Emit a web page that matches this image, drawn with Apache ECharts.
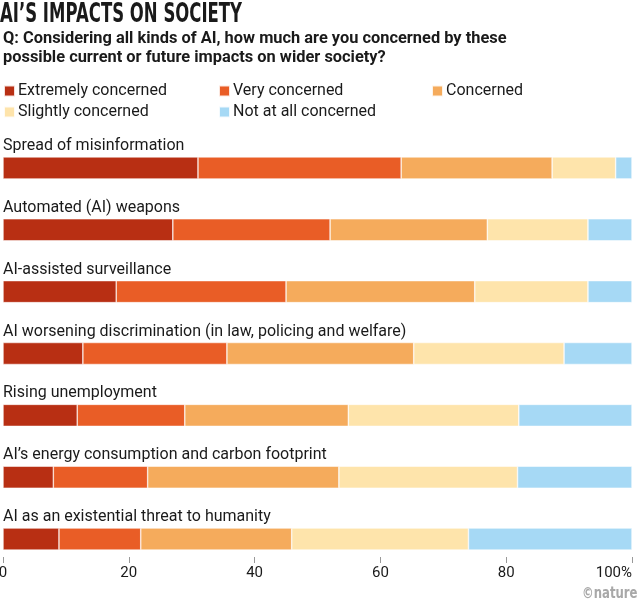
<!DOCTYPE html>
<html>
<head>
<meta charset="utf-8">
<script src="https://cdn.jsdelivr.net/npm/echarts@6/dist/echarts.min.js"></script>
<style>
html,body{margin:0;padding:0;background:#fff;}
#chart{width:640px;height:606px;}
</style>
</head>
<body>
<div id="chart"></div>
<script>
const categories = [
  "Spread of misinformation",
  "Automated (AI) weapons",
  "AI-assisted surveillance",
  "AI worsening discrimination (in law, policing and welfare)",
  "Rising unemployment",
  "AI\u2019s energy consumption and carbon footprint",
  "AI as an existential threat to humanity"
];
const seriesNames = ["Extremely concerned", "Very concerned", "Concerned", "Slightly concerned", "Not at all concerned"];
const extremely = [31, 27, 18, 12.7, 11.8, 8, 8.9];
const very = [32.3, 25, 27, 22.9, 17.1, 15, 13];
const concerned = [24, 25, 30, 29.7, 26, 30.4, 24];
const slightly = [10.1, 16, 18, 23.9, 27.1, 28.4, 28.1];
const notAtAll = [2.6, 7, 7, 10.8, 18, 18.2, 26];
const xTicks = [0, 20, 40, 60, 80, 100];

const colors = ["#b82f13", "#e95d26", "#f5ab5c", "#fee4ab", "#a6d9f5"];
const values = [extremely, very, concerned, slightly, notAtAll];
const FONT = "Roboto";

const chart = echarts.init(document.getElementById('chart'));

const legendPos = [
  {left: 3, top: 83}, {left: 218, top: 83}, {left: 431, top: 83},
  {left: 3, top: 104}, {left: 218, top: 104}
];

const series = seriesNames.map((name, i) => {
  const s = {
    name: name,
    type: 'bar',
    stack: 'total',
    barWidth: 22,
    data: values[i],
    itemStyle: {color: colors[i], borderColor: 'rgba(255,255,255,0.85)', borderWidth: 0.6},
    emphasis: {disabled: true},
    animation: false
  };
  if (i === 0) {
    s.label = {
      show: true,
      position: [0, -11],
      verticalAlign: 'middle',
      align: 'left',
      formatter: p => categories[p.dataIndex],
      color: '#1a1a1a',
      fontSize: 16,
      fontFamily: FONT
    };
  }
  return s;
});

const option = {
  backgroundColor: '#fff',
  animation: false,
  legend: seriesNames.map((name, i) => ({
    data: [name],
    left: legendPos[i].left,
    top: legendPos[i].top,
    icon: 'rect',
    itemWidth: 11,
    itemHeight: 11,
    itemGap: 0,
    padding: 0,
    selectedMode: false,
    textStyle: {fontSize: 16, color: '#1a1a1a', fontFamily: FONT, padding: [0, 0, 0, -2]}
  })),
  grid: {left: 3, right: 8, top: 137, bottom: 36, containLabel: false, outerBoundsMode: 'none'},
  xAxis: {
    type: 'value',
    min: 0,
    max: 100,
    interval: 20,
    offset: -13,
    axisLine: {show: false},
    splitLine: {show: false},
    axisTick: {show: true, length: 6, lineStyle: {color: '#999', width: 1}},
    axisLabel: {
      margin: 9,
      fontSize: 15,
      color: '#1a1a1a',
      fontFamily: FONT,
      alignMaxLabel: 'right',
      formatter: v => (xTicks.indexOf(v) >= 0 ? (v === 100 ? v + '%' : String(v)) : '')
    }
  },
  yAxis: {
    type: 'category',
    data: categories,
    inverse: true,
    axisLine: {show: false},
    axisTick: {show: false},
    axisLabel: {show: false},
    splitLine: {show: false}
  },
  graphic: [
    {
      type: 'text', x: 0, y: 2,
      scaleX: 0.635,
      style: {text: "AI\u2019S IMPACTS ON SOCIETY", fontSize: 26, fontWeight: 'bold', fontFamily: 'DejaVu Sans', fill: '#1a1a1a'}
    },
    {
      type: 'text', left: 3, top: 29,
      style: {text: "Q: Considering all kinds of AI, how much are you concerned by these\npossible current or future impacts on wider society?", fontSize: 16.4, lineHeight: 19, fontWeight: 'bold', fontFamily: FONT, fill: '#1a1a1a'}
    },
    {
      type: 'text', x: 582, y: 587,
      scaleX: 0.78,
      style: {text: "\u00A9nature", fontSize: 15, fontWeight: 'bold', fontFamily: 'DejaVu Sans', fill: '#a8a8a8'}
    }
  ],
  series: series
};
chart.setOption(option);
</script>
</body>
</html>
